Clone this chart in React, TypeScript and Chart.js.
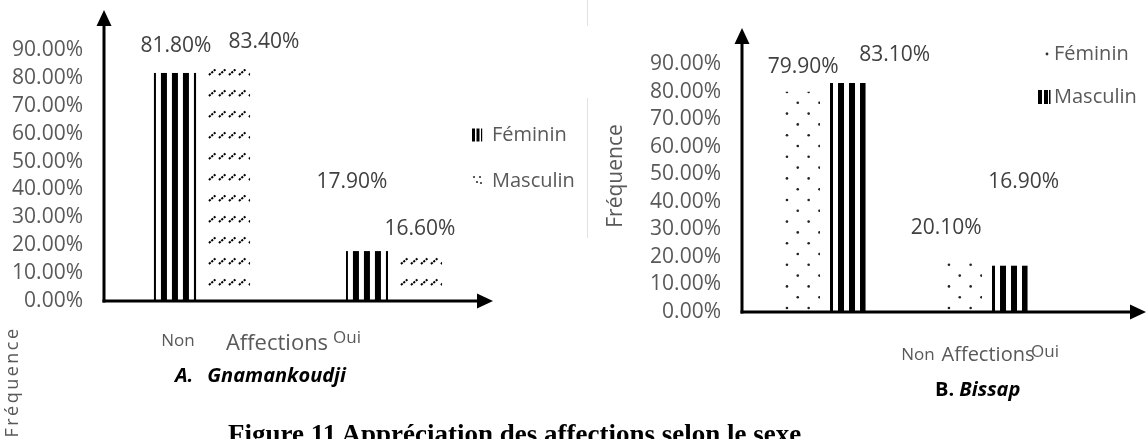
import React, { useEffect, useRef } from "react";
import { Chart, registerables } from "chart.js";

Chart.register(...registerables);

// ---------- data ----------
const categories = ["Non", "Oui"];
const seriesNames = ["Féminin", "Masculin"];
const gnamankoudjiFeminin = [0.818, 0.179];
const gnamankoudjiMasculin = [0.834, 0.166];
const bissapFeminin = [0.799, 0.201];
const bissapMasculin = [0.831, 0.169];
const yTickValues = [0, 0.1, 0.2, 0.3, 0.4, 0.5, 0.6, 0.7, 0.8, 0.9];
const xAxisTitle = "Affections";
const yAxisTitle = "Fréquence";
const panelA = ["A.", "Gnamankoudji"];
const panelB = ["B.", "Bissap"];
const caption = "Figure 11 Appréciation des affections selon le sexe";

// ---------- styles ----------
const FONT = "'Open Sans', 'Noto Sans', sans-serif";
const GRAY = "#595959";
const LABEL = "#404040";

const pct = (v: number) => (v * 100).toFixed(2) + "%";

function fillPattern(ctx: CanvasRenderingContext2D, kind: string, l: number, r: number, t: number, b: number) {
  ctx.save();
  ctx.beginPath();
  ctx.rect(l, t, r - l, b - t);
  ctx.clip();
  if (kind === "stripes") {
    ctx.fillStyle = "#000";
    const phase = r - l > 39 ? -4 : -3;
    for (let sx = l + phase; sx < r; sx += 11) ctx.fillRect(sx, t, 6, b - t);
  } else if (kind === "slashes") {
    ctx.strokeStyle = "#000";
    ctx.lineWidth = 2;
    ctx.setLineDash([2.2, 1]);
    for (let y = b - 19; y - 3 >= t - 1.5; y -= 21) {
      for (let x = l + 1; x < r; x += 10) {
        ctx.beginPath();
        ctx.moveTo(x, y + 3);
        ctx.lineTo(x + 7, y - 3);
        ctx.stroke();
      }
    }
  } else {
    ctx.fillStyle = "#222";
    let row = 0;
    for (let y = b - 4; y >= t - 1; y -= 10.8, row++) {
      for (let x = l + (row % 2 ? 13.3 : 2.5); x <= r - 0.5; x += 21.7) {
        ctx.beginPath();
        ctx.arc(x, y, 1.3, 0, Math.PI * 2);
        ctx.fill();
      }
    }
  }
  ctx.restore();
}

function drawIcon(ctx: CanvasRenderingContext2D, kind: string, x: number, y: number) {
  ctx.save();
  ctx.fillStyle = "#000";
  if (kind === "stripesA") {
    ctx.fillRect(x, y - 6.5, 3, 13);
    ctx.fillRect(x + 4.5, y - 6.5, 3, 13);
    ctx.fillRect(x + 9, y - 6.5, 1.2, 13);
  } else if (kind === "stripesB") {
    ctx.fillRect(x, y - 7, 4, 14);
    ctx.fillRect(x + 6, y - 7, 4, 14);
    ctx.fillRect(x + 11, y - 7, 1.5, 14);
  } else if (kind === "dotsA") {
    ctx.fillStyle = "#333";
    [[x, y - 4], [x + 6, y - 4], [x + 3, y + 1], [x + 7, y + 2]].forEach(([px, py]) => {
      ctx.beginPath();
      ctx.arc(px, py, 1.1, 0, Math.PI * 2);
      ctx.fill();
    });
  } else {
    ctx.fillStyle = "#333";
    ctx.beginPath();
    ctx.arc(x, y, 1.4, 0, Math.PI * 2);
    ctx.fill();
  }
  ctx.restore();
}

function arrowLine(ctx: CanvasRenderingContext2D, x1: number, y1: number, x2: number, y2: number) {
  const len = 16, half = 7.5;
  const dx = x2 - x1, dy = y2 - y1;
  const d = Math.hypot(dx, dy);
  const ux = dx / d, uy = dy / d;
  const bx = x2 - ux * len, by = y2 - uy * len;
  ctx.save();
  ctx.strokeStyle = "#000";
  ctx.fillStyle = "#000";
  ctx.lineWidth = 3;
  ctx.beginPath();
  ctx.moveTo(x1, y1);
  ctx.lineTo(bx, by);
  ctx.stroke();
  ctx.beginPath();
  ctx.moveTo(x2, y2);
  ctx.lineTo(bx - uy * half, by + ux * half);
  ctx.lineTo(bx + uy * half, by - ux * half);
  ctx.closePath();
  ctx.fill();
  ctx.restore();
}

function text(ctx: CanvasRenderingContext2D, s: string, x: number, y: number, size: number, color: string, align: CanvasTextAlign = "center", rot = 0, spacing = 0) {
  ctx.save();
  ctx.font = `${size}px ${FONT}`;
  ctx.fillStyle = color;
  ctx.textAlign = align;
  ctx.textBaseline = "middle";
  (ctx as any).letterSpacing = spacing + "px";
  ctx.translate(x, y);
  if (rot) ctx.rotate(rot);
  ctx.fillText(s, 0, 0);
  ctx.restore();
}

const decorPlugin = {
  id: "decor",
  afterDatasetsDraw(chart: any, _args: any, opts: any) {
    const ctx = chart.ctx as CanvasRenderingContext2D;
    const ca = chart.chartArea;
    chart.data.datasets.forEach((ds: any, i: number) => {
      const meta = chart.getDatasetMeta(i);
      meta.data.forEach((el: any) => {
        const p = el.getProps(["x", "y", "base", "width"], true);
        fillPattern(ctx, opts.patterns[i], p.x - p.width / 2, p.x + p.width / 2, p.y, p.base);
      });
    });
    const ax = ca.left - 2;
    arrowLine(ctx, ax, ca.bottom + 1.5, ax, opts.yArrowTop);
    arrowLine(ctx, ax - 1.5, ca.bottom, opts.xArrowRight, ca.bottom);
    chart.data.datasets.forEach((ds: any, i: number) => {
      const meta = chart.getDatasetMeta(i);
      meta.data.forEach((el: any, j: number) => {
        const p = el.getProps(["x", "y"], true);
        const o = opts.labelOffsets[i][j];
        text(ctx, pct(ds.data[j]), p.x + o[0], p.y + o[1], 21, LABEL);
      });
    });
    opts.legend.forEach((it: any, i: number) => {
      drawIcon(ctx, it.icon, it.ix, it.y);
      text(ctx, chart.data.datasets[i].label, it.tx, it.y, 20, GRAY, "left");
    });
    const xs = chart.scales.x;
    chart.data.labels.forEach((lab: string, i: number) => {
      const c = opts.catLabels[i];
      text(ctx, lab, xs.getPixelForValue(i) + c[0], c[1], 17, GRAY);
    });
    text(ctx, xAxisTitle, opts.xTitle[0], opts.xTitle[1], opts.xTitle[2], GRAY);
    if (opts.yTitle) {
      const y = opts.yTitle;
      text(ctx, yAxisTitle, y[0], y[1], y[2], GRAY, "center", -Math.PI / 2, y[3]);
    }
  },
};

function BarPanel(props: { feminin: number[]; masculin: number[]; left: number; width: number; padding: any; axisWidth: number; decor: any }) {
  const ref = useRef<HTMLCanvasElement>(null);
  useEffect(() => {
    const chart = new Chart(ref.current!, {
      type: "bar",
      data: {
        labels: categories,
        datasets: [
          { label: seriesNames[0], data: props.feminin, backgroundColor: "rgba(0,0,0,0)", borderWidth: 0, categoryPercentage: 0.5625, barPercentage: 0.78 },
          { label: seriesNames[1], data: props.masculin, backgroundColor: "rgba(0,0,0,0)", borderWidth: 0, categoryPercentage: 0.5625, barPercentage: 0.78 },
        ],
      },
      options: {
        responsive: false,
        animation: false,
        devicePixelRatio: 1,
        layout: { padding: props.padding },
        plugins: { legend: { display: false }, tooltip: { enabled: false }, decor: props.decor } as any,
        scales: {
          x: { display: false, offset: true },
          y: {
            min: 0,
            max: 0.9,
            afterBuildTicks: (s: any) => {
              s.ticks = yTickValues.map((v) => ({ value: v }));
            },
            afterFit: (s: any) => {
              s.width = props.axisWidth;
            },
            ticks: { autoSkip: false, callback: (v: any) => pct(Number(v)), font: { family: FONT, size: 21, lineHeight: 1 }, color: GRAY, padding: 23 },
            grid: { display: false, drawTicks: false },
            border: { display: false },
          },
        },
      },
      plugins: [decorPlugin],
    } as any);
    return () => chart.destroy();
  }, []);
  return <canvas ref={ref} width={props.width} height={439} style={{ position: "absolute", left: props.left, top: 0 }} />;
}

export default function App() {
  const titleFont = { fontFamily: FONT, fontWeight: 700, fontSize: 20, color: "#000", position: "absolute" as const, lineHeight: "26px", whiteSpace: "nowrap" as const };
  return (
    <div style={{ position: "fixed", left: 0, top: 0, width: 1147, height: 439, overflow: "hidden", background: "#fff" }}>
      <div style={{ position: "absolute", left: 587, top: 0, width: 1, height: 26, background: "#e2e2e2" }} />
      <div style={{ position: "absolute", left: 587, top: 98, width: 1, height: 140, background: "#e2e2e2" }} />
      <BarPanel
        feminin={gnamankoudjiFeminin}
        masculin={gnamankoudjiMasculin}
        left={0}
        width={580}
        axisWidth={106}
        padding={{ left: 0, right: 90, top: 50, bottom: 138 }}
        decor={{
          patterns: ["stripes", "slashes"],
          yArrowTop: 10,
          xArrowRight: 493,
          labelOffsets: [
            [[1, -27], [-15, -69]],
            [[35, -26], [-1, -26]],
          ],
          legend: [
            { icon: "stripesA", ix: 472, tx: 492, y: 135 },
            { icon: "dotsA", ix: 474, tx: 492, y: 181 },
          ],
          catLabels: [[-24, 341], [-47, 338]],
          xTitle: [277, 344, 22],
          yTitle: [13, 382, 18, 2.5],
        }}
      />
      <BarPanel
        feminin={bissapFeminin}
        masculin={bissapMasculin}
        left={580}
        width={567}
        axisWidth={164}
        padding={{ left: 0, right: 79, top: 64, bottom: 127 }}
        decor={{
          patterns: ["dots", "stripes"],
          yArrowTop: 28,
          xArrowRight: 566,
          labelOffsets: [
            [[1, -25], [-18, -29]],
            [[47, -28], [14, -83]],
          ],
          legend: [
            { icon: "dotB", ix: 467, tx: 474, y: 54 },
            { icon: "stripesB", ix: 458, tx: 474, y: 97 },
          ],
          catLabels: [[93, 355], [58, 352]],
          xTitle: [408, 355, 20],
          yTitle: [36, 176, 21, 0],
        }}
      />
      <div style={{ ...titleFont, left: 175, top: 362 }}>
        <span style={{ fontStyle: "italic" }}>{panelA[0]}</span>
        <span style={{ fontStyle: "italic", marginLeft: 14 }}>{panelA[1]}</span>
      </div>
      <div style={{ ...titleFont, left: 935, top: 376 }}>
        <span>{panelB[0]} </span>
        <span style={{ fontStyle: "italic" }}>{panelB[1]}</span>
      </div>
      <div style={{ position: "absolute", left: 228, top: 421, fontFamily: "'Liberation Serif', 'Times New Roman', serif", fontWeight: 700, fontSize: 27, lineHeight: "27px", color: "#000", whiteSpace: "nowrap" }}>
        {caption}
      </div>
    </div>
  );
}
